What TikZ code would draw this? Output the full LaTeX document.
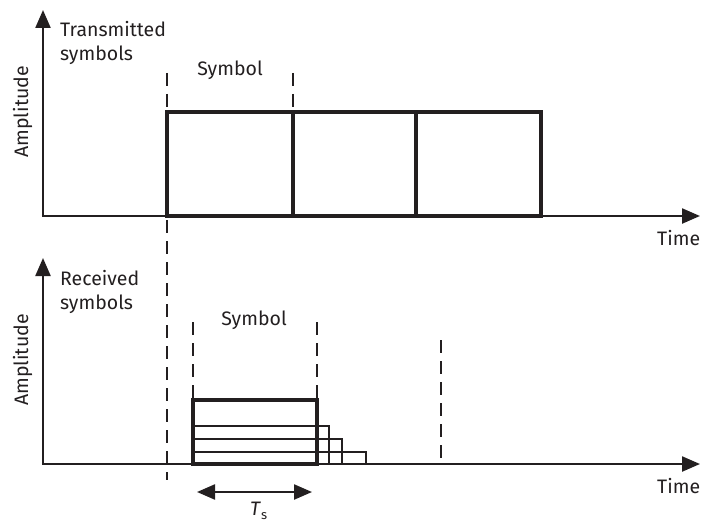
\documentclass[tikz,border=0pt]{standalone}
\usepackage{fontspec}
\setmainfont{Fira Sans}
\usetikzlibrary{arrows.meta}
\definecolor{ink}{HTML}{231F20}
\begin{document}
\begin{tikzpicture}[x=1pt,y=-1pt,
  axis/.style={line width=2.3pt, draw=ink, -{Triangle[length=18pt,width=15pt]}},
  span/.style={line width=2.3pt, draw=ink, {Triangle[length=18pt,width=15pt]}-{Triangle[length=18pt,width=15pt]}},
  pulse/.style={line width=3.2pt, draw=ink},
  echo/.style={line width=1.2pt, draw=ink},
  marker/.style={line width=2.4pt, draw=ink, dash pattern=on 13pt off 8pt},
  lbl/.style={text=ink, font=\fontsize{19.5}{24}\selectfont, inner sep=0pt},
]
\useasboundingbox (0,0) rectangle (701,524);

% ---------- transmitted symbols ----------
\coordinate (o1) at (43,216);
\coordinate (y1) at (43,10);
\coordinate (x1) at (700,216);
\draw[axis] ([yshift=1.15pt]o1) -- (y1);
\draw[axis] ([xshift=-1.15pt]o1) -- (x1);

\draw[pulse] (167,216) rectangle (541,112);
\draw[pulse] (293,112) -- (293,216);
\draw[pulse] (416,112) -- (416,216);

\draw[marker] (167,73) -- (167,480);
\draw[marker] (293,73) -- (293,112);

% two-line nodes are placed by the baseline of their last line
\node[lbl, anchor=base west, align=left] (tx) at (60,61) {Transmitted\\symbols};
\node[lbl, anchor=base] (sym1) at (230,76) {Symbol};
\node[lbl, anchor=base, rotate=90] (amp1) at (28,112) {Amplitude};
\node[lbl, anchor=base west] (t1) at (657,245) {Time};

% ---------- received symbols ----------
\coordinate (o2) at (43,464);
\coordinate (y2) at (43,258);
\coordinate (x2) at (700,464);
\draw[axis] ([yshift=1.15pt]o2) -- (y2);
\draw[axis] ([xshift=-1.15pt]o2) -- (x2);

% delayed echoes of the symbol
\draw[echo] (193,426) -- (329,426) -- (329,464);
\draw[echo] (193,439) -- (342,439) -- (342,464);
\draw[echo] (193,452) -- (366,452) -- (366,464);
\draw[pulse] (193,464) rectangle (317,400);

\draw[marker] (193,322) -- (193,400);
\draw[marker] (317,322) -- (317,400);
\draw[marker] (441,340) -- (441,460);

\node[lbl, anchor=base west, align=left] (rx) at (60,309) {Received\\symbols};
\node[lbl, anchor=base] (sym2) at (254,325) {Symbol};
\node[lbl, anchor=base, rotate=90] (amp2) at (28,360) {Amplitude};
\node[lbl, anchor=base west] (t2) at (657,493) {Time};

% symbol duration
\coordinate (ts0) at (197,492);
\coordinate (ts1) at (312,492);
\draw[span] (ts0) -- (ts1);
\node[lbl, anchor=base west] (ts) at (250,515) {\textit{T}\raisebox{-4pt}{\fontsize{13}{13}\selectfont s}};
\end{tikzpicture}
\end{document}
